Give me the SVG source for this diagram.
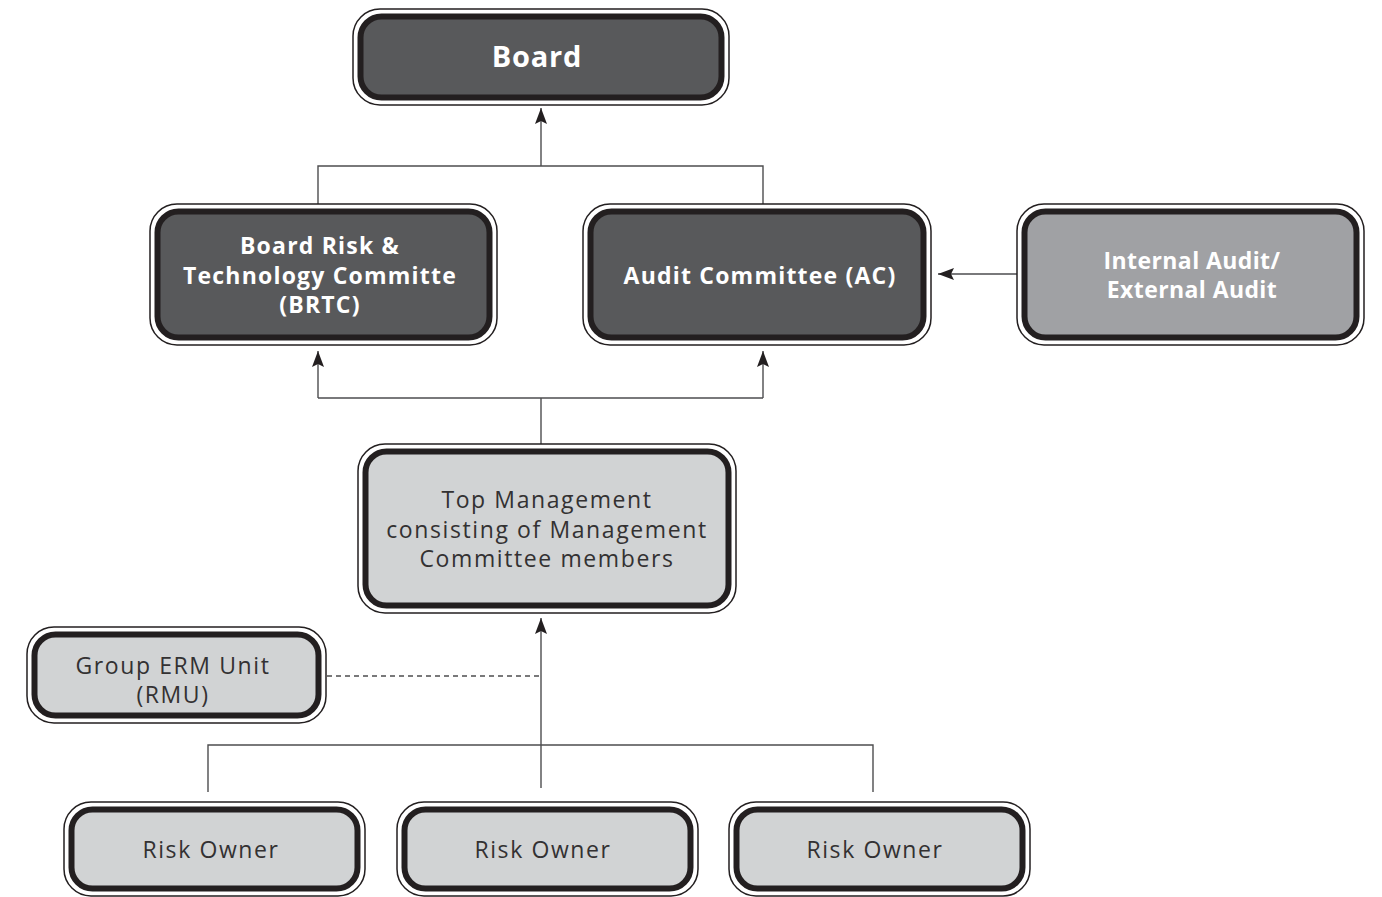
<svg xmlns="http://www.w3.org/2000/svg" width="1382" height="897" viewBox="0 0 1382 897">
<defs>
<style>
.o{fill:#fff;stroke:#231f20;stroke-width:1.5}
.i{stroke:#231f20;stroke-width:6}
.dk{fill:#58595b}
.md{fill:#a0a1a4}
.lt{fill:#d1d3d4}
.tw{font-family:"Open Sans","Liberation Sans",sans-serif;font-weight:700;fill:#fff;text-anchor:middle;font-size:23px;letter-spacing:1.2px}
.tb{font-family:"Open Sans","Liberation Sans",sans-serif;font-weight:400;fill:#333132;text-anchor:middle;font-size:23px;letter-spacing:1.6px}
.c{fill:none;stroke:#4d4d4f;stroke-width:1.4}
</style>
<marker id="ah" viewBox="0 0 16 12" refX="16" refY="6" markerWidth="16" markerHeight="12" markerUnits="userSpaceOnUse" orient="auto">
<path d="M16,6 L0,0 L3,6 L0,12 Z" fill="#231f20"/>
</marker>
</defs>
<rect width="1382" height="897" fill="#fff"/>
<g id="connectors">
<path class="c" d="M541,166 V108" marker-end="url(#ah)"/>
<path class="c" d="M318,205 V166 H763 V205"/>
<path class="c" d="M541,444 V398"/>
<path class="c" d="M318,398 H763"/>
<path class="c" d="M318,398 V351" marker-end="url(#ah)"/>
<path class="c" d="M763,398 V351" marker-end="url(#ah)"/>
<path class="c" d="M1017,274 H938" marker-end="url(#ah)"/>
<path class="c" d="M541,788 V618" marker-end="url(#ah)"/>
<path class="c" d="M208,792 V745 H873 V792"/>
<path class="c" d="M327,676 H541" stroke-dasharray="5,4"/>
</g>
<g id="board">
<rect class="o" x="353" y="9" width="376" height="96" rx="27"/>
<rect class="i dk" x="360.5" y="16.5" width="361" height="81" rx="21"/>
<text class="tw" x="537" y="67" style="font-size:29px;letter-spacing:0.8px">Board</text>
</g>
<g id="brtc">
<rect class="o" x="150" y="204" width="347" height="141" rx="27"/>
<rect class="i dk" x="157.5" y="211.5" width="332" height="126" rx="21"/>
<text class="tw"><tspan x="320" y="254">Board Risk &amp;</tspan><tspan x="320" y="284">Technology Committe</tspan><tspan x="320" y="313">(BRTC)</tspan></text>
</g>
<g id="ac">
<rect class="o" x="583" y="204" width="348" height="141" rx="27"/>
<rect class="i dk" x="590.5" y="211.5" width="333" height="126" rx="21"/>
<text class="tw" x="760" y="284">Audit Committee (AC)</text>
</g>
<g id="audit">
<rect class="o" x="1017" y="204" width="347" height="141" rx="27"/>
<rect class="i md" x="1024.5" y="211.5" width="332" height="126" rx="21"/>
<text class="tw" style="letter-spacing:0.4px"><tspan x="1192" y="269">Internal Audit/</tspan><tspan x="1192" y="298">External Audit</tspan></text>
</g>
<g id="topmgmt">
<rect class="o" x="358" y="444" width="378" height="169" rx="27"/>
<rect class="i lt" x="365.5" y="451.5" width="363" height="154" rx="21"/>
<text class="tb"><tspan x="547" y="508">Top Management</tspan><tspan x="547" y="538">consisting of Management</tspan><tspan x="547" y="567">Committee members</tspan></text>
</g>
<g id="erm">
<rect class="o" x="27" y="627" width="299" height="96" rx="27"/>
<rect class="i lt" x="34.5" y="634.5" width="284" height="81" rx="21"/>
<text class="tb"><tspan x="173" y="674">Group ERM Unit</tspan><tspan x="173" y="703">(RMU)</tspan></text>
</g>
<g id="ro1">
<rect class="o" x="64" y="802" width="301" height="94" rx="27"/>
<rect class="i lt" x="71.5" y="809.5" width="286" height="79" rx="21"/>
<text class="tb" x="211" y="858">Risk Owner</text>
</g>
<g id="ro2">
<rect class="o" x="397" y="802" width="301" height="94" rx="27"/>
<rect class="i lt" x="404.5" y="809.5" width="286" height="79" rx="21"/>
<text class="tb" x="543" y="858">Risk Owner</text>
</g>
<g id="ro3">
<rect class="o" x="729" y="802" width="301" height="94" rx="27"/>
<rect class="i lt" x="736.5" y="809.5" width="286" height="79" rx="21"/>
<text class="tb" x="875" y="858">Risk Owner</text>
</g>
</svg>
